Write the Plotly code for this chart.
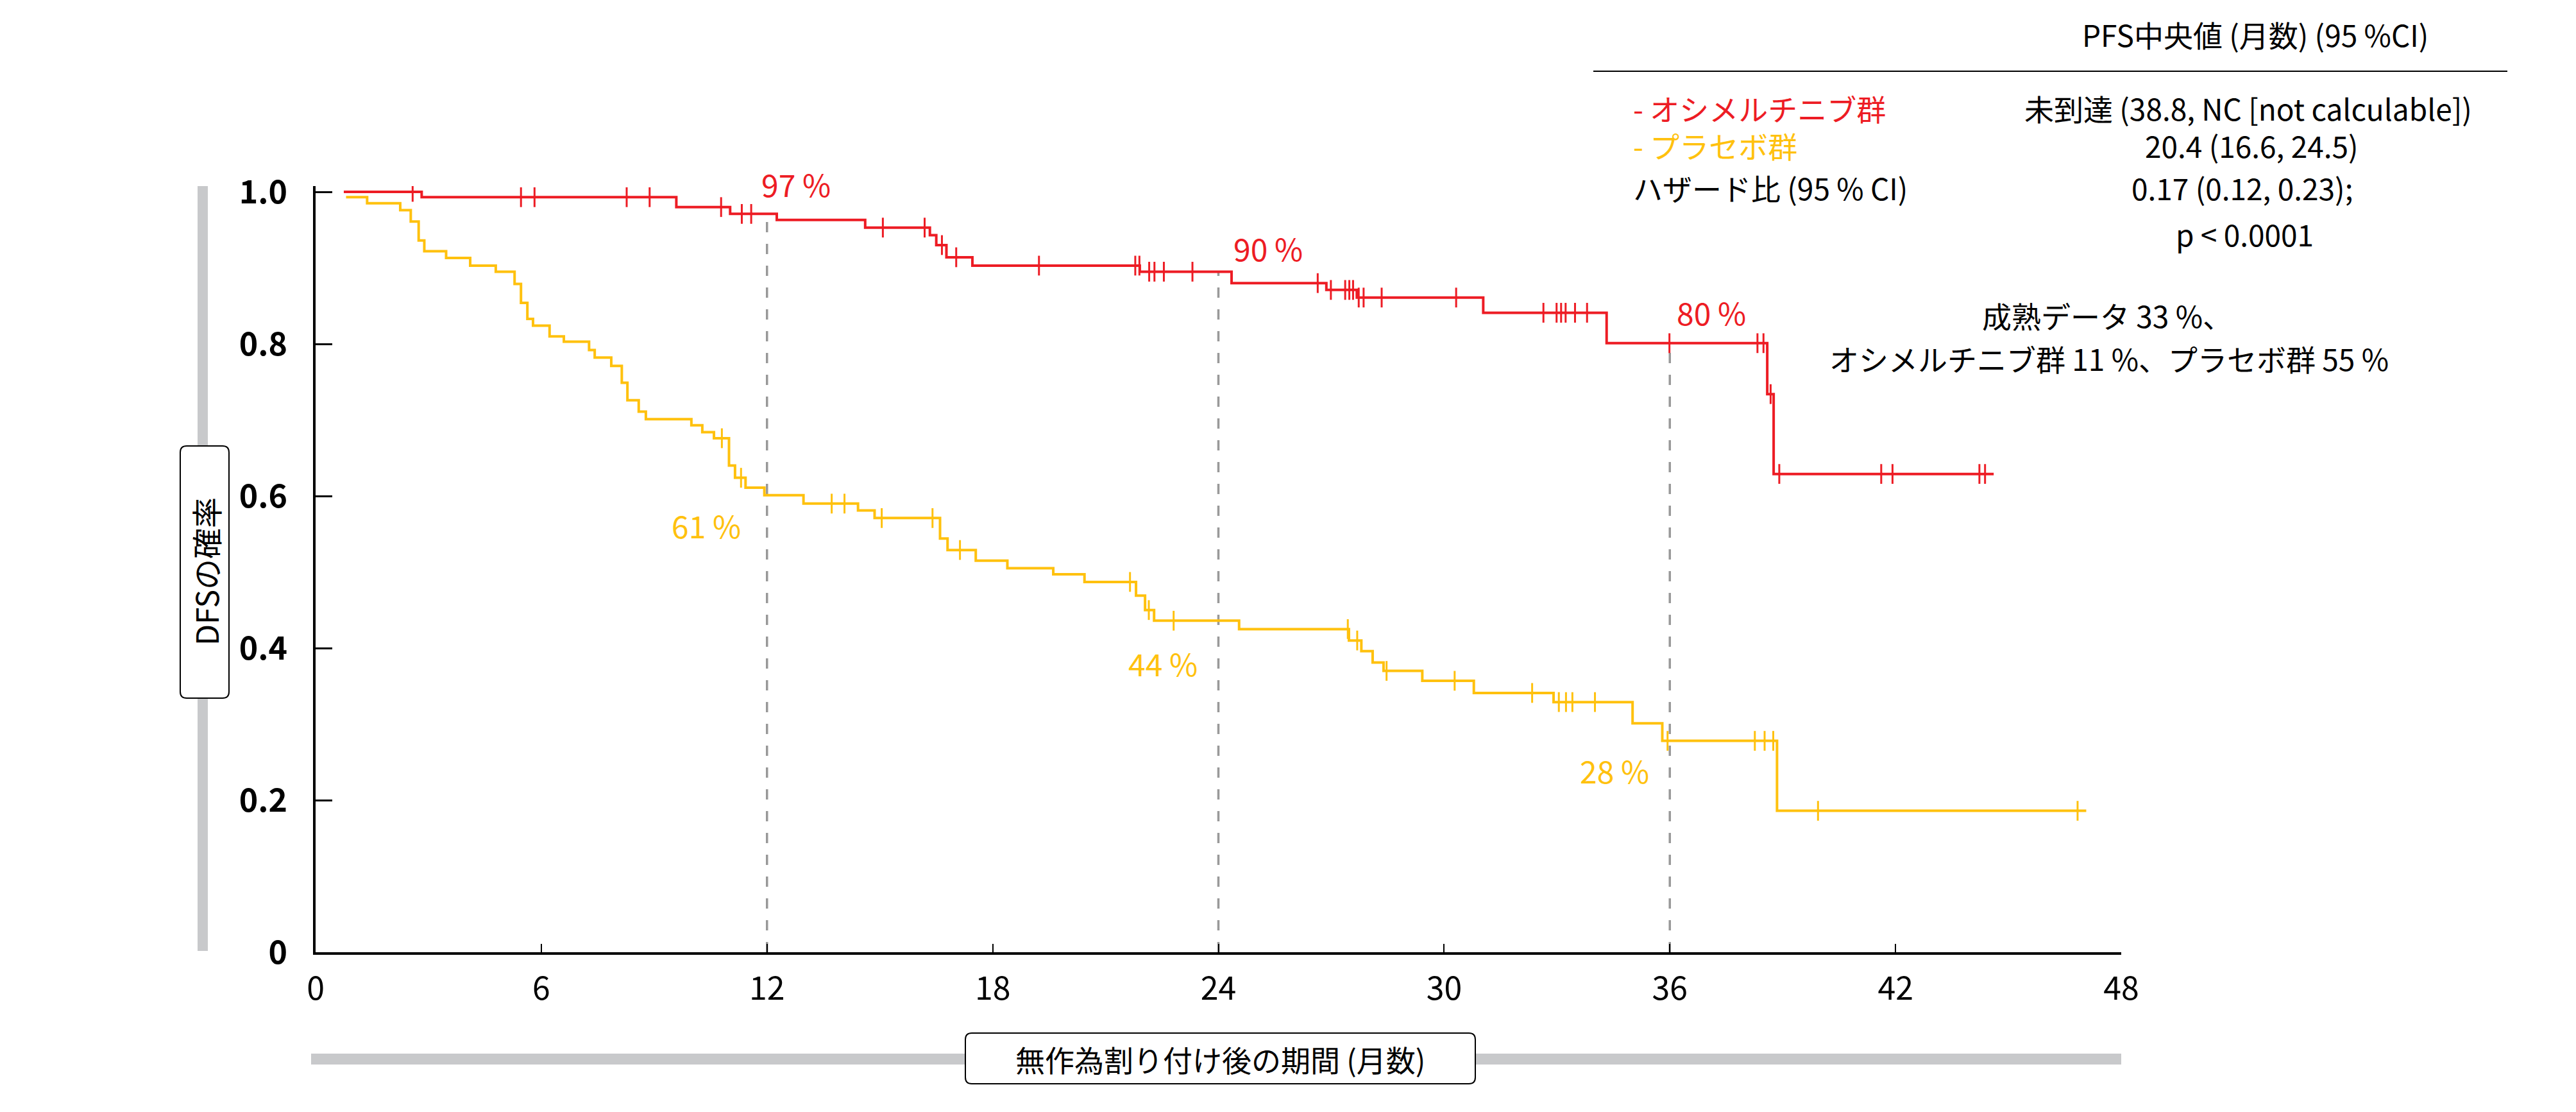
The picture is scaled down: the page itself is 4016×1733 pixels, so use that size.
import numpy as np
import plotly.graph_objects as go

#osimertinib arm: step times (months) and survival after each step
osi_time = [0.75, 2.82, 9.59, 11.02, 12.26, 14.61, 16.33, 16.50, 16.77, 17.46,
            21.91, 24.35, 26.87, 27.68, 31.04, 34.32, 38.59, 38.76, 44.61]
osi_surv = [1.000, 0.993, 0.980, 0.971, 0.963, 0.953, 0.943, 0.930, 0.914, 0.903,
            0.895, 0.880, 0.871, 0.861, 0.841, 0.801, 0.734, 0.629, 0.629]
osi_censor = [2.58, 5.46, 5.82, 8.27, 8.88, 10.78, 11.33, 11.58, 15.08, 16.19,
              16.65, 17.03, 19.23, 21.79, 21.90, 22.16, 22.30, 22.55, 23.31, 26.64,
              26.99, 27.37, 27.48, 27.58, 27.73, 27.86, 28.34, 30.32, 32.64, 32.99,
              33.11, 33.23, 33.48, 33.80, 35.99, 38.33, 38.49, 38.68, 38.91, 41.62,
              41.92, 44.23, 44.38]

#placebo arm
pla_time = [0.81, 1.37, 2.25, 2.53, 2.74, 2.89, 3.47, 4.11, 4.79, 5.29,
            5.46, 5.63, 5.78, 6.22, 6.60, 7.27, 7.42, 7.86, 8.14, 8.29,
            8.59, 8.78, 9.99, 10.28, 10.59, 10.99, 11.15, 11.43, 11.93, 12.97,
            14.42, 14.86, 16.60, 16.80, 17.55, 18.39, 19.61, 20.44, 21.81, 22.05,
            22.29, 24.55, 27.47, 27.80, 28.10, 28.39, 29.42, 30.79, 32.91, 35.01,
            35.80, 38.85, 47.07]
pla_surv = [0.993, 0.985, 0.976, 0.961, 0.936, 0.922, 0.913, 0.903, 0.895, 0.879,
            0.854, 0.833, 0.824, 0.810, 0.803, 0.792, 0.782, 0.771, 0.749, 0.726,
            0.711, 0.701, 0.693, 0.684, 0.676, 0.640, 0.624, 0.611, 0.601, 0.590,
            0.581, 0.571, 0.544, 0.529, 0.515, 0.505, 0.497, 0.487, 0.469, 0.450,
            0.436, 0.425, 0.410, 0.396, 0.381, 0.370, 0.357, 0.341, 0.329, 0.301,
            0.278, 0.186, 0.186]
pla_censor = [10.80, 11.31, 13.72, 14.06, 15.05, 16.40, 17.13, 21.65, 22.15, 22.81,
              27.44, 27.69, 28.47, 30.28, 32.34, 33.05, 33.24, 33.41, 34.01, 35.94,
              38.26, 38.52, 38.75, 39.94, 46.84]

landmarks = [12, 24, 36]
osi_pct = ["97 %", "90 %", "80 %"]
pla_pct = ["61 %", "44 %", "28 %"]

x_ticks = [0, 6, 12, 18, 24, 30, 36, 42, 48]
y_ticks = [0, 0.2, 0.4, 0.6, 0.8, 1.0]
y_ticktext = ["0", "0.2", "0.4", "0.6", "0.8", "1.0"]

RED = "#ED1C24"
YEL = "#FFC10E"
GRAY = "#C8C9CB"
FONT = "Noto Sans CJK JP"

W, H = 4016, 1733
L, R, T, B = 492, 3307, 290, 1484  #plot area in page pixels
PW, PH = R - L, B - T
OFF = 8  #page body margin


def step_value(times, surv, t):
    i = np.searchsorted(times, t, side="right") - 1
    return np.asarray(surv)[np.clip(i, 0, len(surv) - 1)]


def px(x, y):
    #page pixel -> paper coords
    return (x - L) / PW, (B - y) / PH


def rbox(x0, y0, x1, y1, r):
    pts = [("M", [(x0 + r, y0)]), ("L", [(x1 - r, y0)]), ("Q", [(x1, y0), (x1, y0 + r)]),
           ("L", [(x1, y1 - r)]), ("Q", [(x1, y1), (x1 - r, y1)]), ("L", [(x0 + r, y1)]),
           ("Q", [(x0, y1), (x0, y1 - r)]), ("L", [(x0, y0 + r)]), ("Q", [(x0, y0), (x0 + r, y0)])]
    s = ""
    for cmd, pp in pts:
        s += cmd + " ".join("%.5f,%.5f" % px(a, b) for a, b in pp)
    return s + " Z"


fig = go.Figure()

#landmark dashed lines, from the osimertinib curve down to 0
for m in landmarks:
    fig.add_shape(type="line", x0=m, x1=m, y0=0, y1=float(step_value(osi_time, osi_surv, m)),
                  line=dict(color="#999999", width=3.5, dash="16px,18px"), layer="below")

for tt, ss, cc, col in [(pla_time, pla_surv, pla_censor, YEL), (osi_time, osi_surv, osi_censor, RED)]:
    fig.add_trace(go.Scatter(x=tt, y=ss, mode="lines", line=dict(color=col, width=4, shape="hv")))
    fig.add_trace(go.Scatter(x=cc, y=step_value(tt, ss, cc), mode="markers",
                             marker=dict(symbol="line-ns", size=22, line=dict(color=col, width=3))))

#percent labels at landmarks (pixel offsets from the landmark / curve)
for m, lab, (dx, y) in zip(landmarks, osi_pct, [(0.77, 0.995), (1.32, 0.927), (1.10, 0.842)]):
    fig.add_annotation(x=m + dx, y=y, text=lab, showarrow=False, yshift=19 if y > 0.99 else 0,
                       font=dict(color=RED, size=48, family=FONT))
for m, lab, (dx, y) in zip(landmarks, pla_pct, [(-1.62, 0.562), (-1.48, 0.381), (-1.47, 0.240)]):
    fig.add_annotation(x=m + dx, y=y, text=lab, showarrow=False, font=dict(color=YEL, size=48, family=FONT))

#gray axis bars and title boxes
x0, y0 = px(308, 290)
x1, y1 = px(324, 1482)
fig.add_shape(type="rect", xref="paper", yref="paper", x0=x0, x1=x1, y0=y0, y1=y1,
              fillcolor=GRAY, line_width=0)
x0, y0 = px(485, 1642)
x1, y1 = px(3307, 1659)
fig.add_shape(type="rect", xref="paper", yref="paper", x0=x0, x1=x1, y0=y0, y1=y1,
              fillcolor=GRAY, line_width=0)
fig.add_shape(type="path", xref="paper", yref="paper", path=rbox(281, 695, 357, 1088, 10),
              fillcolor="white", line=dict(color="black", width=2))
fig.add_shape(type="path", xref="paper", yref="paper", path=rbox(1505, 1610, 2300, 1689, 10),
              fillcolor="white", line=dict(color="black", width=2))

ax, ay = px(320, 891)
fig.add_annotation(xref="paper", yref="paper", x=ax, y=ay, text="DFSの確率", textangle=-90,
                   xanchor="center", yanchor="middle",
                   showarrow=False, font=dict(size=48, family=FONT, color="black"))
ax, ay = px(1902, 1650)
fig.add_annotation(xref="paper", yref="paper", x=ax, y=ay, text="無作為割り付け後の期間 (月数)",
                   xanchor="center", yanchor="middle",
                   showarrow=False, font=dict(size=46, family=FONT, color="black"))

#top right summary block
x0, y0 = px(2484, 111)
x1, _ = px(3909, 111)
fig.add_shape(type="line", xref="paper", yref="paper", x0=x0, x1=x1, y0=y0, y1=y0,
              line=dict(color="black", width=2))
texts = [
    ("PFS中央値 (月数) (95 %CI)", 3516, 53, "center", "black"),
    ("- オシメルチニブ群", 2544, 168, "left", RED),
    ("未到達 (38.8, NC [not calculable])", 3505, 168, "center", "black"),
    ("- プラセボ群", 2544, 226, "left", YEL),
    ("20.4 (16.6, 24.5)", 3510, 226, "center", "black"),
    ("ハザード比 (95 % CI)", 2544, 292, "left", "black"),
    ("0.17 (0.12, 0.23);", 3495, 292, "center", "black"),
    ("p < 0.0001", 3499, 364, "center", "black"),
    ("成熟データ 33 %、", 3285, 491, "center", "black"),
    ("オシメルチニブ群 11 %、プラセボ群 55 %", 3288, 558, "center", "black"),
]
for txt, tx, ty, anchor, col in texts:
    ax, ay = px(tx, ty)
    fig.add_annotation(xref="paper", yref="paper", x=ax, y=ay, text=txt, showarrow=False,
                       xanchor=anchor, yanchor="middle", font=dict(size=46, family=FONT, color=col))

fig.update_layout(width=W, height=H, showlegend=False,
                  margin=dict(l=L - OFF, r=W - R + OFF, t=T - OFF, b=H - B + OFF, pad=0),
                  paper_bgcolor="white", plot_bgcolor="white",
                  font=dict(family=FONT, color="black"))
fig.update_xaxes(range=[0, 48], tickvals=x_ticks, showgrid=False, zeroline=False,
                 showline=True, linecolor="black", linewidth=4,
                 ticks="inside", ticklen=13, tickwidth=2, tickcolor="black",
                 tickfont=dict(size=50, family=FONT), ticklabelstandoff=10)
fig.update_yaxes(range=[0, 1.0076], tickvals=y_ticks, ticktext=y_ticktext, showgrid=False,
                 zeroline=False, showline=True, linecolor="black", linewidth=4,
                 ticks="inside", ticklen=26, tickwidth=3, tickcolor="black",
                 tickfont=dict(size=50, family=FONT, weight="bold"), ticklabelstandoff=30)

fig.write_html("out.html")
